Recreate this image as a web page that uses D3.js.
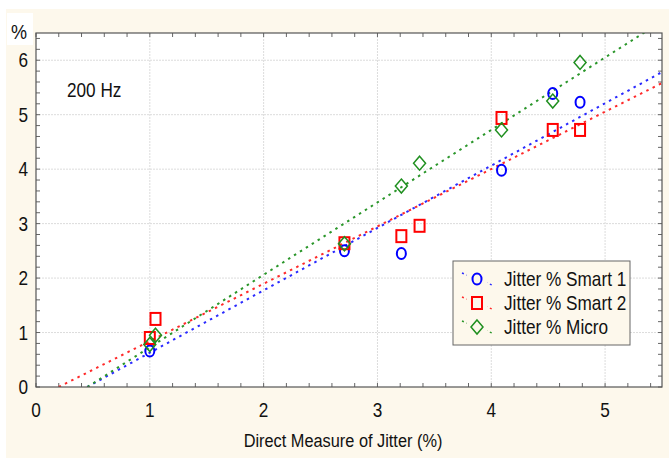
<!DOCTYPE html>
<html>
<head>
<meta charset="utf-8">
<script src="https://cdn.jsdelivr.net/npm/d3@7"></script>
<style>
  body { margin: 0; background: #fff; }
  svg { display: block; }
  text { font-family: "Liberation Sans", Arial, sans-serif; fill: #111; }
</style>
</head>
<body>
<div id="chart"></div>
<script>
// series names
const seriesNames = ["Jitter % Smart 1", "Jitter % Smart 2", "Jitter % Micro"];

// direct measure (x) and app measures (y) per series
const smart1X = [1.0, 2.71, 3.21, 4.09, 4.54, 4.78];
const smart1Y = [0.66, 2.5, 2.45, 3.98, 5.39, 5.23];

const smart2X = [1.0, 1.05, 2.71, 3.21, 3.37, 4.09, 4.54, 4.78];
const smart2Y = [0.9, 1.25, 2.64, 2.77, 2.96, 4.94, 4.72, 4.72];

const microX = [1.0, 1.05, 2.71, 3.21, 3.37, 4.09, 4.54, 4.78];
const microY = [0.78, 0.95, 2.63, 3.69, 4.11, 4.72, 5.25, 5.96];

// fitted lines (y = slope * x + intercept)
const fitSlope = [1.145, 1.053, 1.33];
const fitIntercept = [-0.515, -0.21, -0.6];

const xTicks = [0, 1, 2, 3, 4, 5];
const yTicks = [0, 1, 2, 3, 4, 5, 6];

const colors = ["#0000ff", "#ff0000", "#1f8f1f"];
const lineColors = ["#2a2aff", "#ff2a2a", "#2a962a"];

const W = 669, H = 458;
const margin = {top: 33, right: 7, bottom: 71, left: 36};
const width = W - margin.left - margin.right;
const height = H - margin.top - margin.bottom;
const narrow = 0.86; // squeeze text to look like a narrow face

const svg = d3.select("#chart").append("svg")
    .attr("width", W)
    .attr("height", H);

// text helper: places condensed text at x,y
function narrowText(sel, tx, ty, str, size, anchor) {
    return sel.append("text")
        .attr("transform", `translate(${tx},${ty}) scale(${narrow},1)`)
        .attr("text-anchor", anchor || "start")
        .attr("font-size", size)
        .text(str);
}

// beige page background with the white strip on top/left
svg.append("rect").attr("width", W).attr("height", H).attr("fill", "#fff");
svg.append("rect").attr("x", 6).attr("y", 9).attr("width", W - 6).attr("height", H - 9).attr("fill", "#fdf8ec");
svg.append("rect").attr("x", 7).attr("y", 13).attr("width", 26).attr("height", 32).attr("fill", "#fff");

const g = svg.append("g")
    .attr("transform", "translate(" + margin.left + "," + margin.top + ")");

const x = d3.scaleLinear().domain([0, 5.5]).range([0, width]);
const y = d3.scaleLinear().domain([0, 6.5]).range([height, 0]);

g.append("rect").attr("width", width).attr("height", height).attr("fill", "#fff");

// grid
g.append("g").selectAll("line")
    .data(xTicks.slice(1))
    .enter().append("line")
    .attr("x1", d => x(d)).attr("x2", d => x(d))
    .attr("y1", 0).attr("y2", height)
    .attr("stroke", "#dcdcdc").attr("stroke-width", 1)
    .attr("stroke-dasharray", "2,1");
g.append("g").selectAll("line")
    .data(yTicks.slice(1))
    .enter().append("line")
    .attr("y1", d => y(d)).attr("y2", d => y(d))
    .attr("x1", 0).attr("x2", width)
    .attr("stroke", "#dcdcdc").attr("stroke-width", 1)
    .attr("stroke-dasharray", "2,1");

// minor ticks on all four sides, pointing inward
const xMinor = d3.range(0, 5.5001, 0.2);
const yMinor = d3.range(0, 6.5001, 0.2);
const tickG = g.append("g").attr("stroke", "#666").attr("stroke-width", 1);
xMinor.forEach(v => {
    tickG.append("line").attr("x1", x(v)).attr("x2", x(v)).attr("y1", height).attr("y2", height - 4);
    tickG.append("line").attr("x1", x(v)).attr("x2", x(v)).attr("y1", 0).attr("y2", 4);
});
yMinor.forEach(v => {
    tickG.append("line").attr("y1", y(v)).attr("y2", y(v)).attr("x1", 0).attr("x2", 4);
    tickG.append("line").attr("y1", y(v)).attr("y2", y(v)).attr("x1", width).attr("x2", width - 4);
});

// tick labels from the scales
const xAxisG = g.append("g").attr("class", "x-axis");
xTicks.forEach(d => narrowText(xAxisG, x(d), height + 30, d3.format("d")(d), 20, "middle"));
const yAxisG = g.append("g").attr("class", "y-axis");
yTicks.forEach(d => narrowText(yAxisG, -8, y(d) + 7, d3.format("d")(d), 20, "end"));

// clipped regression lines
g.append("clipPath").attr("id", "plot-clip")
    .append("rect").attr("width", width).attr("height", height);

const lines = g.append("g").attr("clip-path", "url(#plot-clip)");
fitSlope.forEach((m, i) => {
    const b = fitIntercept[i];
    const x0 = -b / m;
    lines.append("line")
        .attr("x1", x(x0)).attr("y1", y(0))
        .attr("x2", x(5.5)).attr("y2", y(m * 5.5 + b))
        .attr("stroke", lineColors[i])
        .attr("stroke-width", 2)
        .attr("stroke-dasharray", "2.5,4.5");
});

// markers
const markerG = g.append("g").attr("fill", "none");

function drawMarker(sel, kind, cx, cy, color) {
    if (kind === 0) {
        sel.append("ellipse").attr("cx", cx).attr("cy", cy).attr("rx", 4.5).attr("ry", 5.5)
            .attr("stroke", color).attr("stroke-width", 2).attr("fill", "none");
    } else if (kind === 1) {
        sel.append("rect").attr("x", cx - 5).attr("y", cy - 6).attr("width", 10).attr("height", 12)
            .attr("stroke", color).attr("stroke-width", 2).attr("fill", "none");
    } else {
        sel.append("path")
            .attr("d", `M${cx},${cy - 7}L${cx + 6},${cy}L${cx},${cy + 7}L${cx - 6},${cy}Z`)
            .attr("stroke", color).attr("stroke-width", 1.5).attr("fill", "none");
    }
}

smart1X.forEach((v, i) => drawMarker(markerG, 0, x(v), y(smart1Y[i]), colors[0]));
smart2X.forEach((v, i) => drawMarker(markerG, 1, x(v), y(smart2Y[i]), colors[1]));
microX.forEach((v, i) => drawMarker(markerG, 2, x(v), y(microY[i]), colors[2]));

// plot border
g.append("rect").attr("width", width).attr("height", height)
    .attr("fill", "none").attr("stroke", "#555").attr("stroke-width", 1.2);

// annotation
narrowText(g, 31, 64, "200 Hz", 20);

// legend
const legend = g.append("g").attr("transform", "translate(417,228)");
legend.append("rect").attr("width", 177).attr("height", 84)
    .attr("fill", "#fdf8ec").attr("stroke", "#666").attr("stroke-width", 1);
seriesNames.forEach((name, i) => {
    const ly = 18 + i * 24;
    legend.append("line")
        .attr("x1", 9).attr("x2", 39).attr("y1", ly - 6).attr("y2", ly + 6)
        .attr("stroke", lineColors[i]).attr("stroke-width", 1.5)
        .attr("stroke-dasharray", "2,3");
    legend.append("rect").attr("x", 14).attr("y", ly - 8).attr("width", 20).attr("height", 16).attr("fill", "#fdf8ec");
    drawMarker(legend, i, 24, ly, colors[i]);
    narrowText(legend, 51, ly + 7, name, 20);
});

// axis titles
narrowText(svg, 11, 39, "%", 21);
narrowText(svg, margin.left + width / 2 - 6, 447, "Direct Measure of Jitter (%)", 19, "middle");
</script>
</body>
</html>
